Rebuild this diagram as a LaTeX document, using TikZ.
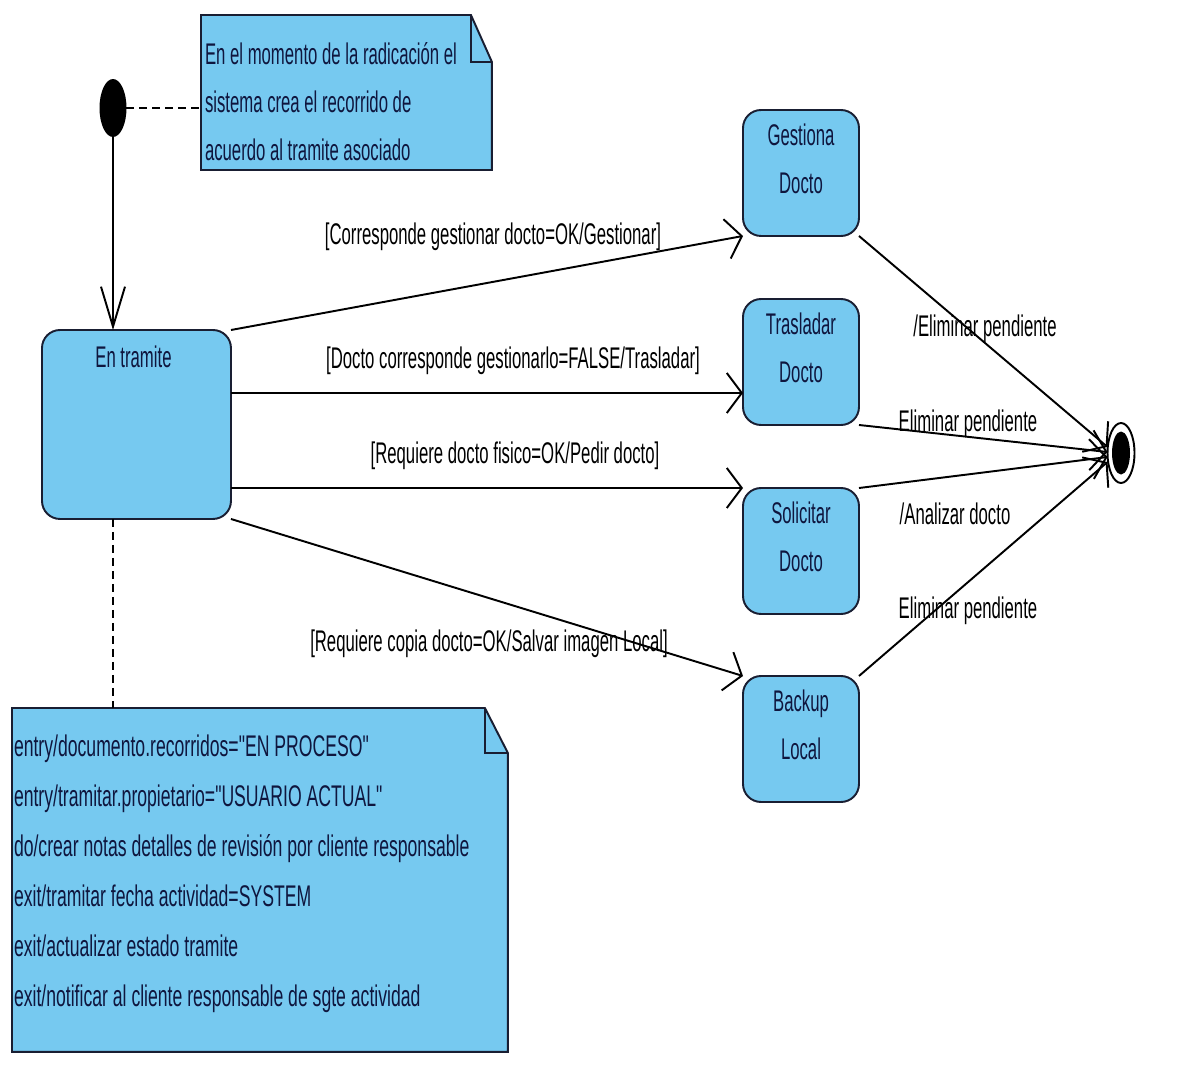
\documentclass[tikz,border=0pt]{standalone}
\usepackage{fontspec}
\newfontfamily\uml{Liberation Sans}[FakeStretch=0.56]
\newfontfamily\umlwide{Liberation Sans}[FakeStretch=0.59]
\usetikzlibrary{arrows.meta,shapes.geometric,calc}
\definecolor{statefill}{RGB}{118,201,240}
\definecolor{lineink}{RGB}{25,30,50}
\definecolor{ink}{RGB}{15,22,62}

\begin{document}
\begin{tikzpicture}[x=0.02cm,y=-0.02cm,
  every node/.style={inner sep=0pt, outer sep=0pt},
  txt/.style={font=\uml\fontsize{17}{27.3}\selectfont},
  statebox/.style={draw=lineink, fill=statefill, line width=1.1pt, rounded corners=0.36cm,
    minimum width=2.32cm, minimum height=2.52cm, anchor=north west},
  statename/.style={txt, text=ink, align=center, anchor=north},
  noteframe/.style={anchor=north west},
  notebody/.style={draw=lineink, fill=statefill, line width=1.1pt, line join=miter},
  notefold/.style={draw=lineink, line width=1.1pt},
  notetext/.style={txt, text=ink, align=left, anchor=north west},
  trans/.style={draw=black, line width=1.1pt},
  hbarb/.style={-{Straight Barb[length=0.3cm,width=0.8cm]}},
  vbarb/.style={-{Straight Barb[length=0.8cm,width=0.48cm]}},
  guard/.style={txt, text=black, anchor=base},
  anchorline/.style={draw=black, line width=1.1pt, dash pattern=on 0.16cm off 0.1cm},
]
\fill[white] (0,0) rectangle (1199,1065);
\useasboundingbox (0,0) rectangle (1199,1065);

% pseudo states
\node[ellipse, fill=black, minimum width=0.54cm, minimum height=1.16cm] (init) at (113,108) {};
\node[ellipse, draw=black, fill=white, line width=1.1pt, minimum width=0.54cm, minimum height=1.2cm] (final) at (1121,453) {};
\node[ellipse, fill=black, minimum width=0.36cm, minimum height=0.86cm] (final-core) at (final.center) {};

% states
\node[statebox, minimum width=3.78cm, minimum height=3.78cm] (tramite) at (42,330) {};
\node[statename] (tramite-name) at ($(tramite.north)+(-3,16)$) {En tramite};

\node[statebox] (gest) at (743,110) {};
\node[statename] (gest-name) at ($(gest.north)+(0,14)$) {Gestiona\\Docto};
\node[statebox] (trasl) at (743,299) {};
\node[statename] (trasl-name) at ($(trasl.north)+(0,14)$) {Trasladar\\Docto};
\node[statebox] (solic) at (743,488) {};
\node[statename] (solic-name) at ($(solic.north)+(0,14)$) {Solicitar\\Docto};
\node[statebox] (backup) at (743,676) {};
\node[statename] (backup-name) at ($(backup.north)+(0,14)$) {Backup\\Local};

% note attached to the initial state
\node[noteframe, minimum width=5.82cm, minimum height=3.1cm] (note1) at (201,15) {};
\path[notebody] (note1.north west) -- ([xshift=-0.42cm]note1.north east)
  -- ([yshift=-0.94cm]note1.north east) -- (note1.south east) -- (note1.south west) -- cycle;
\draw[notefold] ([xshift=-0.42cm]note1.north east) |- ([yshift=-0.94cm]note1.north east);
\node[notetext] (note1-text) at (205,43)
  {En el momento de la radicación el\\sistema crea el recorrido de\\acuerdo al tramite asociado};

% note with the internal activities of "En tramite"
\node[noteframe, minimum width=9.92cm, minimum height=6.88cm] (note2) at (12,708) {};
\path[notebody] (note2.north west) -- ([xshift=-0.46cm]note2.north east)
  -- ([yshift=-0.9cm]note2.north east) -- (note2.south east) -- (note2.south west) -- cycle;
\draw[notefold] ([xshift=-0.46cm]note2.north east) |- ([yshift=-0.9cm]note2.north east);
\node[notetext, font=\umlwide\fontsize{17}{28.45}\selectfont] (note2-text) at (14,735)
  {entry/documento.recorridos="EN PROCESO"\\
   entry/tramitar.propietario="USUARIO ACTUAL"\\
   do/crear notas detalles de revisión por cliente responsable\\
   exit/tramitar fecha actividad=SYSTEM\\
   exit/actualizar estado tramite\\
   exit/notificar al cliente responsable de sgte actividad};

% note anchors
\draw[anchorline] (init) -- (init -| note1.west);
\draw[anchorline] (init |- tramite.south) -- (init |- note2.north);

% transitions
\draw[trans, vbarb] (init) -- (init |- tramite.north);
\draw[trans, hbarb] (tramite.north east) -- (gest.south west);
\draw[trans, hbarb] (tramite.east |- 0,393) -- (trasl.west |- 0,393);
\draw[trans, hbarb] (tramite.east |- solic.north) -- (solic.north west);
\draw[trans, hbarb] (tramite.south east) -- (backup.north west);

\draw[trans, hbarb] (gest.south east) -- ([yshift=0.12cm]final.west);
\draw[trans, hbarb] (trasl.south east) -- ([yshift=0.02cm]final.west);
\draw[trans, hbarb] (solic.north east) -- ([yshift=-0.08cm]final.west);
\draw[trans, hbarb] (backup.north east) -- ([yshift=-0.18cm]final.west);

% transition labels
\node[guard] (g1) at (493,244) {[Corresponde gestionar docto=OK/Gestionar]};
\node[guard] (g2) at (513,368) {[Docto corresponde gestionarlo=FALSE/Trasladar]};
\node[guard] (g3) at (515,463) {[Requiere docto fisico=OK/Pedir docto]};
\node[guard] (g4) at (489,651) {[Requiere copia docto=OK/Salvar imagen Local]};
\node[guard] (e1) at (985,336) {/Eliminar pendiente};
\node[guard] (e2) at (968,431) {Eliminar pendiente};
\node[guard] (e3) at (955,524) {/Analizar docto};
\node[guard] (e4) at (968,618) {Eliminar pendiente};
\end{tikzpicture}
\end{document}
